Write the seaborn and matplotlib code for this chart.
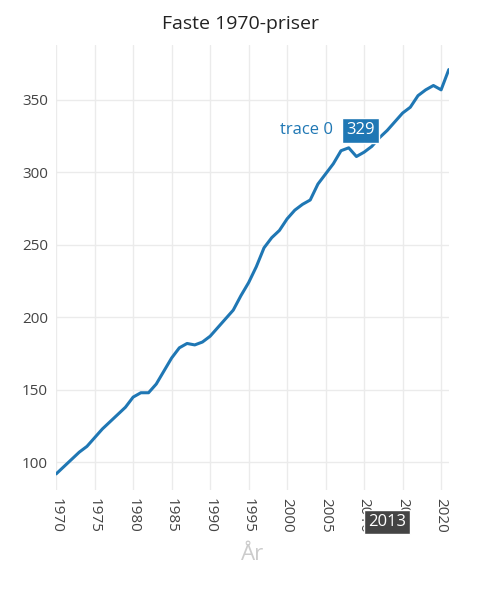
import matplotlib
matplotlib.use("Agg")
import matplotlib.pyplot as plt
import seaborn as sns
import pandas as pd

years = list(range(1970, 2022))
values = [92, 97, 102, 107, 111, 117, 123, 128, 133, 138,
          145, 148, 148, 154, 163, 172, 179, 182, 181, 183,
          187, 193, 199, 205, 215, 224, 235, 248, 255, 260,
          268, 274, 278, 281, 292, 299, 306, 315, 317, 311,
          314, 318, 324, 329, 335, 341, 345, 353, 357, 360,
          357, 371]
xticks = list(range(1970, 2021, 5))
yticks = [100, 150, 200, 250, 300, 350]

sns.set_theme(style="white")
plt.rcParams['font.family'] = ['Open Sans', 'DejaVu Sans']
df = pd.DataFrame({"year": years, "value": values})

fig = plt.figure(figsize=(4.8, 6.07), dpi=100)
ax = fig.add_axes([0.117, 0.193, 0.818, 0.733])
ax.grid(True, color="#ebebeb", lw=1)
ax.set_axisbelow(True)
sns.lineplot(data=df, x="year", y="value", ax=ax, color="#1f77b4", lw=2.2)
ax.set_xlim(1970, 2021)
ax.set_ylim(81, 388)
ax.set_xticks(xticks)
ax.set_xticklabels([str(t) for t in xticks], rotation=-90, fontsize=11, color="#444")
ax.set_yticks(yticks)
ax.set_yticklabels([str(t) for t in yticks], fontsize=11, color="#444")
ax.tick_params(length=0, pad=6)
for s in ax.spines.values():
    s.set_visible(False)
ax.set_xlabel("År", fontsize=16, color="#cccccc", labelpad=8)
ax.set_ylabel("")
fig.suptitle("Faste 1970-priser", y=0.975, fontsize=14, color="#222")

# hover labels
hy = 2013; hv = values[years.index(hy)]
ax.annotate(str(hv), xy=(hy, hv), xytext=(-9, 0), textcoords="offset points",
            ha="right", va="center", color="white", fontsize=12,
            bbox=dict(boxstyle="square,pad=0.25", fc="#1f77b4", ec="white"))
ax.annotate("trace 0", xy=(hy, hv), xytext=(-39, 0), textcoords="offset points",
            ha="right", va="center", color="#1f77b4", fontsize=12)
ax.annotate(str(hy), xy=(hy, 81), xytext=(0, -23), textcoords="offset points",
            ha="center", va="center", color="white", fontsize=12,
            bbox=dict(boxstyle="square,pad=0.25", fc="#444444", ec="white"),
            annotation_clip=False)
fig.savefig("out.png", dpi=100)
